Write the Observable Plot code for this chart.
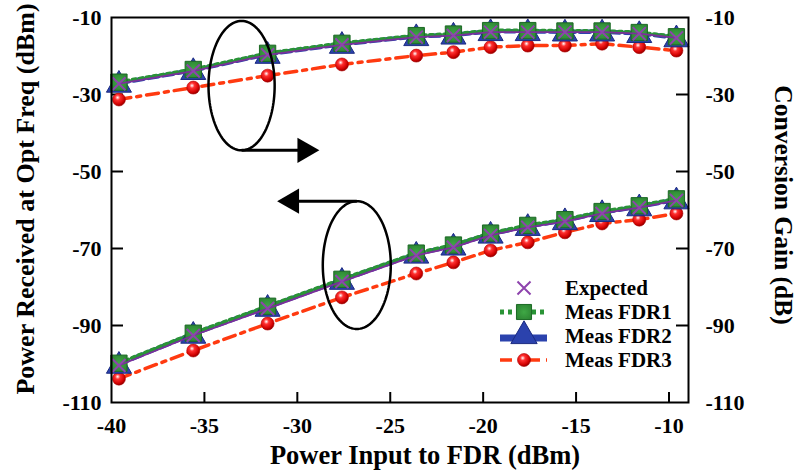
<!DOCTYPE html>
<html><head><meta charset="utf-8">
<script src="https://cdn.jsdelivr.net/npm/d3@7"></script>
<script src="https://cdn.jsdelivr.net/npm/@observablehq/plot@0.6"></script>
<style>
body{margin:0;background:#fff;}
#chart{position:relative;width:797px;height:470px;}
</style></head><body><div id="chart"></div>
<script>
// ---- data ----
const inputPower = [-39.6, -35.6, -31.6, -27.6, -23.6, -21.6, -19.6, -17.6, -15.6, -13.6, -11.6, -9.6];

const gainExpected = [-27.2, -23.9, -19.7, -17.1, -15.1, -14.7, -13.8, -13.8, -13.8, -13.8, -14.2, -15.3];
const gainFDR1     = [-26.8, -23.5, -19.3, -16.7, -14.7, -14.3, -13.4, -13.4, -13.5, -13.5, -13.9, -15.0];
const gainFDR2     = [-27.0, -23.7, -19.5, -16.9, -14.9, -14.5, -13.6, -13.6, -13.7, -13.7, -14.1, -15.2];
const gainFDR3     = [-31.3, -28.2, -25.1, -22.2, -19.9, -19.0, -17.7, -17.3, -17.3, -16.8, -17.7, -18.6];

const powerExpected = [-100.4, -92.6, -85.6, -78.6, -71.8, -69.7, -66.6, -64.5, -63.0, -60.9, -59.4, -57.5];
const powerFDR1     = [-99.8, -92.0, -85.0, -78.0, -71.2, -69.1, -66.0, -64.0, -62.5, -60.4, -58.9, -57.1];
const powerFDR2     = [-100.0, -92.2, -85.2, -78.2, -71.4, -69.3, -66.2, -64.2, -62.7, -60.6, -59.1, -57.3];
const powerFDR3     = [-103.8, -96.5, -89.5, -82.7, -76.5, -73.6, -70.5, -68.4, -65.8, -63.5, -62.5, -60.9];

const xTicks = [-40, -35, -30, -25, -20, -15, -10];
const yTicks = [-10, -30, -50, -70, -90, -110];
const seriesNames = ["Expected", "Meas FDR1", "Meas FDR2", "Meas FDR3"];

const xTitle = "Power Input to FDR (dBm)";
const yTitleLeft = "Power Received at Opt Freq (dBm)";
const yTitleRight = "Conversion Gain (dB)";

// annotation ellipses and arrows (data units)
const ellipseCx = [-33.0, -26.8];
const ellipseCy = [-27.7, -74.3];
const ellipseRx = [1.78, 1.83];
const ellipseRy = [16.8, 16.6];
const arrowX1 = [-33.0, -26.8];
const arrowY  = [-44.5, -57.7];
const arrowX2 = [-29.6, -30.3];
const arrowDir = ["right", "left"];

// ---- build tables ----
const seriesArrays = {
  "Expected":  {gain: gainExpected, power: powerExpected},
  "Meas FDR1": {gain: gainFDR1, power: powerFDR1},
  "Meas FDR2": {gain: gainFDR2, power: powerFDR2},
  "Meas FDR3": {gain: gainFDR3, power: powerFDR3}
};
const rows = [];
for (const s of seriesNames) {
  for (const grp of ["gain", "power"]) {
    seriesArrays[s][grp].forEach((v, i) => rows.push({series: s, group: grp, x: inputPower[i], y: v}));
  }
}
const only = s => rows.filter(d => d.series === s);

const ellipsePts = [];
ellipseCx.forEach((cx, k) => {
  for (let i = 0; i <= 120; i++) {
    const t = i / 120 * 2 * Math.PI;
    ellipsePts.push({k, x: cx + ellipseRx[k] * Math.cos(t), y: ellipseCy[k] + ellipseRy[k] * Math.sin(t)});
  }
});
const arrows = arrowX1.map((x1, k) => ({x1, x2: arrowX2[k], y: arrowY[k], dir: arrowDir[k]}));

const W = 797, H = 470, mL = 111, mR = 109, mT = 17, mB = 68;
const innerW = W - mL - mR, innerH = H - mT - mB;

const colors = {exp: "#8e44ad", expLine: "#7b2f9b", green: "#2a9436", blue: "#2b42ad", red: "#ff3a10"};
const serif = "'Liberation Serif', 'Times New Roman', serif";

const plot = Plot.plot({
  width: W, height: H,
  marginLeft: mL, marginRight: mR, marginTop: mT, marginBottom: mB,
  style: {fontFamily: serif, fontWeight: "bold", fontSize: "22px", color: "black", background: "white"},
  x: {domain: [-40, -8.95]},
  y: {domain: [-110, -10]},
  marks: [
    // axes
    Plot.axisX(xTicks, {tickSize: 0, tickPadding: 15, label: null, tickFormat: d => String(d)}),
    Plot.axisY(yTicks, {anchor: "left", tickSize: 0, tickPadding: 10, label: null, tickFormat: d => String(d)}),
    Plot.axisY(yTicks, {anchor: "right", tickSize: 0, tickPadding: 17, label: null, tickFormat: d => String(d), textAnchor: "start"}),
    Plot.tickX(xTicks.filter(d => d > -40), {x: d => d, insetTop: innerH - 10, stroke: "black", strokeWidth: 2}),
    Plot.tickY(yTicks.filter(d => d > -110 && d < -10), {y: d => d, insetRight: innerW - 12, stroke: "black", strokeWidth: 2}),
    Plot.tickY(yTicks.filter(d => d > -110 && d < -10), {y: d => d, insetLeft: innerW - 12, stroke: "black", strokeWidth: 2}),
    // FDR3
    Plot.line(only("Meas FDR3"), {x: "x", y: "y", z: "group", stroke: colors.red, strokeWidth: 3.5, strokeDasharray: "12,6,4,6"}),
    Plot.dot(only("Meas FDR3"), {x: "x", y: "y", r: 6.5, fill: "url(#ballGrad)", stroke: "#b00000", strokeWidth: 0.6}),
    // FDR2
    Plot.line(only("Meas FDR2"), {x: "x", y: "y", z: "group", stroke: colors.blue, strokeWidth: 4.5, strokeDasharray: "10,5"}),
    // FDR1
    Plot.line(only("Meas FDR1"), {x: "x", y: "y", z: "group", stroke: colors.green, strokeWidth: 4, strokeDasharray: "3,4"}),
    Plot.dot(only("Meas FDR2"), {x: "x", y: "y", symbol: "triangle", r: 9.3, dy: 2, fill: colors.blue, stroke: "#1b2a80", strokeWidth: 1}),
    Plot.dot(only("Meas FDR1"), {x: "x", y: "y", symbol: "square", r: 9.2, fill: "url(#sqGrad)", stroke: "#1c6a25", strokeWidth: 1}),
    // Expected
    Plot.line(only("Expected"), {x: "x", y: "y", z: "group", stroke: colors.expLine, strokeWidth: 1.8}),
    Plot.dot(only("Expected"), {x: "x", y: "y", symbol: "times", r: 6, stroke: colors.exp, strokeWidth: 2}),
    // annotations
    Plot.line(ellipsePts, {x: "x", y: "y", z: "k", stroke: "black", strokeWidth: 2.5}),
    Plot.link(arrows, {x1: "x1", x2: "x2", y1: "y", y2: "y", stroke: "black", strokeWidth: 3}),
    Plot.dot(arrows, {x: "x2", y: "y", symbol: "triangle", r: 9.4, fill: "black", stroke: "none",
      rotate: d => d.dir === "right" ? 90 : -90}),
    // frame
    Plot.frame({stroke: "black", strokeWidth: 2})
  ]
});

document.getElementById("chart").appendChild(plot);
const svg = d3.select(plot);

// defs for gradients
const defs = svg.insert("defs", ":first-child");
const rg = defs.append("radialGradient").attr("id", "ballGrad").attr("cx", "40%").attr("cy", "35%").attr("r", "65%");
rg.append("stop").attr("offset", "0%").attr("stop-color", "#ffffff");
rg.append("stop").attr("offset", "30%").attr("stop-color", "#ff3030");
rg.append("stop").attr("offset", "80%").attr("stop-color", "#d00000");
rg.append("stop").attr("offset", "100%").attr("stop-color", "#900000");
const sg = defs.append("radialGradient").attr("id", "sqGrad").attr("cx", "50%").attr("cy", "50%").attr("r", "70%");
sg.append("stop").attr("offset", "0%").attr("stop-color", "#3fa845");
sg.append("stop").attr("offset", "100%").attr("stop-color", "#2a7f30");

// axis titles
const tg = svg.append("g").attr("font-family", serif).attr("font-weight", "bold").attr("fill", "black");
tg.append("text").attr("font-size", 26.5).attr("text-anchor", "middle").attr("x", 425).attr("y", 464).text(xTitle);
tg.append("text").attr("font-size", 26).attr("text-anchor", "middle").attr("dominant-baseline", "central")
  .attr("transform", "translate(25,199) rotate(-90)").text(yTitleLeft);
tg.append("text").attr("font-size", 25.5).attr("text-anchor", "middle").attr("dominant-baseline", "central")
  .attr("transform", "translate(783,205) rotate(90)").text(yTitleRight);

// legend
const lg = svg.append("g").attr("font-family", serif).attr("font-weight", "bold").attr("font-size", 21).attr("text-anchor", "start");
const rowY = [288, 312, 336, 360];
const lx0 = 500, lx1 = 547, mx = 524, tx = 565;
const sym = (type, size) => d3.symbol(type, size)();
lg.append("path").attr("d", sym(d3.symbolTimes, 113)).attr("transform", `translate(${mx},${rowY[0]})`).attr("stroke", colors.exp).attr("stroke-width", 2).attr("fill", "none");
lg.append("line").attr("x1", lx0).attr("x2", lx1).attr("y1", rowY[1]).attr("y2", rowY[1]).attr("stroke", colors.green).attr("stroke-width", 5).attr("stroke-dasharray", "4,4");
lg.append("path").attr("d", sym(d3.symbolSquare, 227)).attr("transform", `translate(${mx},${rowY[1]})`).attr("fill", "url(#sqGrad)").attr("stroke", "#1c6a25");
lg.append("line").attr("x1", lx0).attr("x2", lx1).attr("y1", rowY[2] + 2).attr("y2", rowY[2] + 2).attr("stroke", colors.blue).attr("stroke-width", 7);
lg.append("path").attr("d", sym(d3.symbolTriangle, 300)).attr("transform", `translate(${mx},${rowY[2]})`).attr("fill", colors.blue).attr("stroke", "#1b2a80");
lg.append("line").attr("x1", lx0).attr("x2", lx1).attr("y1", rowY[3]).attr("y2", rowY[3]).attr("stroke", colors.red).attr("stroke-width", 3.5).attr("stroke-dasharray", "12,6,4,6");
lg.append("circle").attr("cx", mx).attr("cy", rowY[3]).attr("r", 6.5).attr("fill", "url(#ballGrad)").attr("stroke", "#b00000").attr("stroke-width", 0.6);
seriesNames.forEach((s, i) => {
  lg.append("text").attr("x", tx).attr("y", rowY[i] + 7).text(s);
});
</script>
</body></html>
